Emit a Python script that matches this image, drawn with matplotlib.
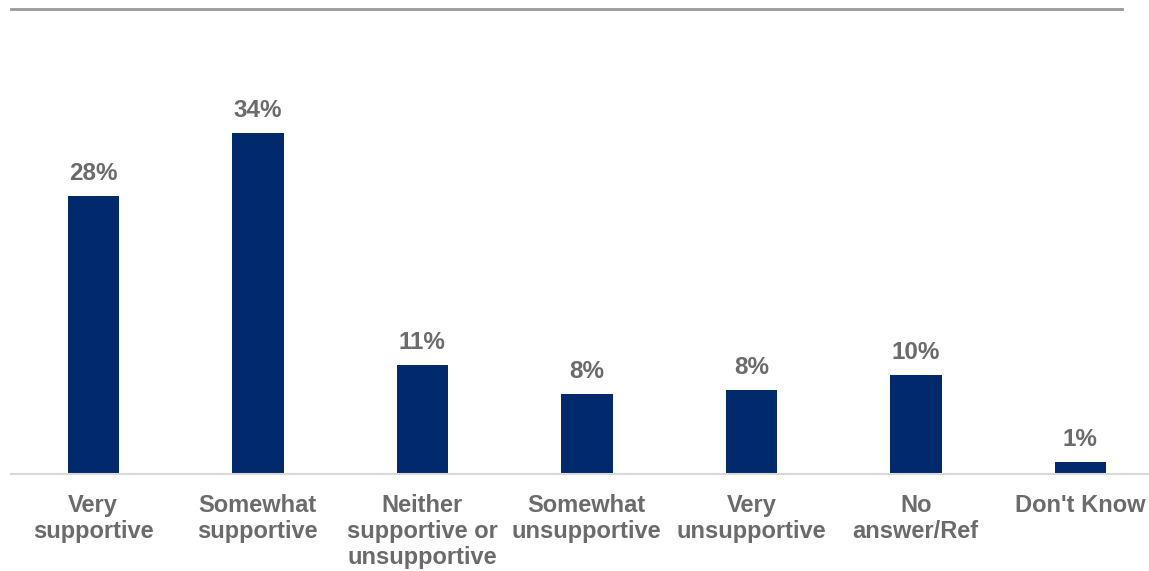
import matplotlib.pyplot as plt
from matplotlib.lines import Line2D

categories = ["Very\nsupportive", "Somewhat\nsupportive", "Neither\nsupportive or\nunsupportive",
              "Somewhat\nunsupportive", "Very\nunsupportive", "No\nanswer/Ref", "Don't Know"]
values = [27.8, 34.1, 10.9, 8.0, 8.4, 9.9, 1.2]
labels = ["28%", "34%", "11%", "8%", "8%", "10%", "1%"]

plt.rcParams['font.family'] = ['Liberation Sans', 'DejaVu Sans']
gray = '#6b6b6b'

fig = plt.figure(figsize=(11.49, 5.71), dpi=100)
W, H = 1149, 571
# axes: left at x=11, bottom at y=474, top at y=9
ax = fig.add_axes([11 / W, (H - 474) / H, (W - 11) / W, 465 / H])

x = range(len(categories))
ax.bar(x, values, width=0.313, color='#002A6C')
for xi, v, lab in zip(x, values, labels):
    ax.annotate(lab, (xi, v), xytext=(0, 11.5), textcoords='offset points',
                ha='center', va='baseline', fontsize=17.5, fontweight='bold', color=gray)

ax.set_xlim(-0.5, (W - 93.3) / 164.5)
ax.set_ylim(0, 46.5)
ax.set_xticks(list(x))
ax.set_xticklabels(categories, fontsize=17, fontweight='bold', color=gray, linespacing=1.16)
ax.tick_params(axis='x', length=0, pad=14.5)
ax.set_yticks([])
for s in ['top', 'right', 'left']:
    ax.spines[s].set_visible(False)
ax.spines['bottom'].set_color('#d9d9d9')
ax.spines['bottom'].set_linewidth(1.5)

# top rule
fig.add_artist(Line2D([11 / W, 1122 / W], [(H - 9) / H, (H - 9) / H],
                      color='#999999', linewidth=2, transform=fig.transFigure))

fig.savefig('out.png', dpi=100)
